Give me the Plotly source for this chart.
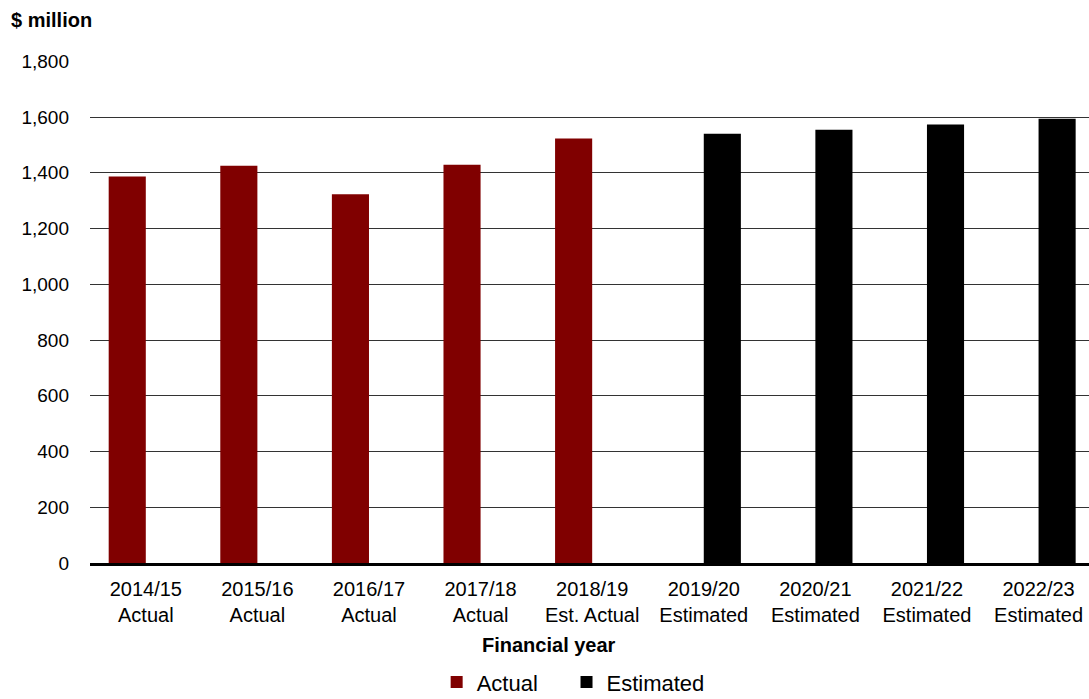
import plotly.graph_objects as go

# Financial years and their status labels
years = ["2014/15", "2015/16", "2016/17", "2017/18", "2018/19",
         "2019/20", "2020/21", "2021/22", "2022/23"]
status = ["Actual", "Actual", "Actual", "Actual", "Est. Actual",
          "Estimated", "Estimated", "Estimated", "Estimated"]

# Values in $ million
actual = [1387, 1425, 1323, 1429, 1523, None, None, None, None]
estimated = [None, None, None, None, None, 1540, 1554, 1573, 1594]

y_ticks = [0, 200, 400, 600, 800, 1000, 1200, 1400, 1600, 1800]

categories = [f"{y}<br>{s}" for y, s in zip(years, status)]

FONT = "Liberation Sans, Arial, sans-serif"

fig = go.Figure()
fig.add_trace(go.Bar(name="Actual", x=categories, y=actual,
                     marker=dict(color="#800000", line=dict(width=0)),
                     legend="legend"))
fig.add_trace(go.Bar(name="Estimated", x=categories, y=estimated,
                     marker=dict(color="#000000", line=dict(width=0)),
                     legend="legend2"))

legend_common = dict(orientation="h", xanchor="left",
                     yref="container", y=0.024, yanchor="middle",
                     font=dict(size=22, family=FONT),
                     bgcolor="rgba(0,0,0,0)", itemclick=False)

fig.update_layout(
    width=1089, height=699,
    margin=dict(l=90, r=0, t=61, b=136, autoexpand=False),
    paper_bgcolor="white", plot_bgcolor="white",
    barmode="group", bargap=0.335, bargroupgap=0,
    font=dict(family=FONT, color="#000000"),
    showlegend=True,
    legend=dict(x=0.347, **legend_common),
    legend2=dict(x=0.477, **legend_common),
    annotations=[
        dict(text="<b>$ million</b>", xref="paper", yref="paper",
             x=-0.081, y=1.082, xanchor="left", yanchor="middle",
             showarrow=False, font=dict(size=20, family=FONT)),
        dict(text="<b>Financial year</b>", xref="paper", yref="paper",
             x=0.4595, y=-0.164, xanchor="center", yanchor="middle",
             showarrow=False, font=dict(size=20, family=FONT)),
    ],
)

fig.update_xaxes(
    type="category", range=[-0.5, 8.452],
    showgrid=False, zeroline=False,
    showline=True, linecolor="#000000", linewidth=3,
    ticks="", tickfont=dict(size=20, family=FONT),
    ticklabelstandoff=6,
)
fig.update_yaxes(
    range=[0, 1801], tickvals=y_ticks, tickformat=",d",
    showgrid=True, gridcolor="#333333", gridwidth=1,
    zeroline=False, showline=False,
    tickfont=dict(size=19, family=FONT),
    ticklabelstandoff=20,
)

fig.write_html("out.html")
